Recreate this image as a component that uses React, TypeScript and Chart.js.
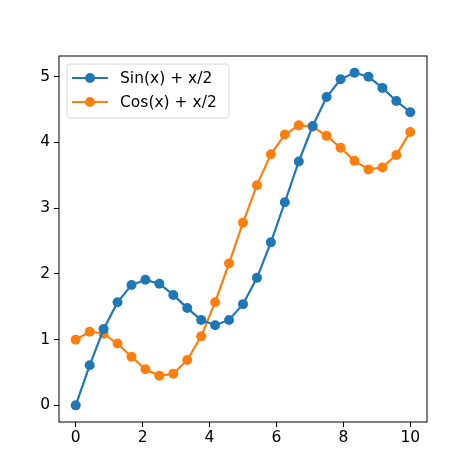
import { useEffect, useRef } from "react"
import { Chart, registerables } from "chart.js"

Chart.register(...registerables)

const xValues = [
  0, 0.417, 0.833, 1.25, 1.667, 2.083, 2.5, 2.917, 3.333, 3.75, 4.167, 4.583, 5.0,
  5.417, 5.833, 6.25, 6.667, 7.083, 7.5, 7.917, 8.333, 8.75, 9.167, 9.583, 10,
]
const sinValues = [
  0, 0.61, 1.16, 1.57, 1.83, 1.91, 1.85, 1.68, 1.48, 1.3, 1.22, 1.3, 1.54, 1.94,
  2.48, 3.09, 3.71, 4.25, 4.69, 4.96, 5.06, 5.0, 4.83, 4.63, 4.46,
]
const cosValues = [
  1.0, 1.12, 1.09, 0.94, 0.74, 0.55, 0.45, 0.48, 0.69, 1.05, 1.57, 2.16, 2.78,
  3.35, 3.82, 4.12, 4.26, 4.24, 4.1, 3.92, 3.72, 3.59, 3.62, 3.81, 4.16,
]
const seriesLabels = ["Sin(x) + x/2", "Cos(x) + x/2"]
const seriesColors = ["#1f77b4", "#ff7f0e"]
const xTicks = [0, 2, 4, 6, 8, 10]
const yTicks = [0, 1, 2, 3, 4, 5]

const FONT = "DejaVu Sans"
const FONT_SIZE = 15.5
const MARKER = 5

// draws the full axes box and the matplotlib-style legend inside the plot
const framePlugin = {
  id: "frame",
  afterDatasetsDraw(chart: Chart) {
    const { ctx, chartArea } = chart
    ctx.save()
    ctx.strokeStyle = "#000"
    ctx.lineWidth = 1
    ctx.strokeRect(chartArea.left, chartArea.top, chartArea.right - chartArea.left, chartArea.bottom - chartArea.top)

    // legend
    const bx = chartArea.left + 8
    const by = chartArea.top + 8
    const bw = 162
    const bh = 54
    ctx.beginPath()
    ctx.roundRect(bx, by, bw, bh, 3)
    ctx.fillStyle = "rgba(255,255,255,0.8)"
    ctx.fill()
    ctx.strokeStyle = "#d6d6d6"
    ctx.stroke()

    ctx.font = `${FONT_SIZE}px "${FONT}"`
    ctx.textBaseline = "middle"
    seriesLabels.forEach((label, i) => {
      const cy = by + 14 + i * 24
      ctx.strokeStyle = seriesColors[i]
      ctx.lineWidth = 2.2
      ctx.beginPath()
      ctx.moveTo(bx + 5, cy)
      ctx.lineTo(bx + 41, cy)
      ctx.stroke()
      ctx.beginPath()
      ctx.arc(bx + 23, cy, MARKER, 0, Math.PI * 2)
      ctx.fillStyle = seriesColors[i]
      ctx.fill()
      ctx.fillStyle = "#000"
      ctx.fillText(label, bx + 53, cy + 1)
    })
    ctx.restore()
  },
}

export default function App() {
  const chartRef = useRef<HTMLCanvasElement>(null)
  const chartInstance = useRef<Chart | null>(null)

  useEffect(() => {
    if (!chartRef.current) return
    if (chartInstance.current) chartInstance.current.destroy()

    const ctx = chartRef.current.getContext("2d")
    if (!ctx) return

    const makeData = (values: number[]) => values.map((y, i) => ({ x: xValues[i], y }))

    chartInstance.current = new Chart(ctx, {
      type: "line",
      data: {
        datasets: [sinValues, cosValues].map((values, i) => ({
          label: seriesLabels[i],
          data: makeData(values),
          borderColor: seriesColors[i],
          backgroundColor: seriesColors[i],
          borderWidth: 2.2,
          pointRadius: MARKER,
          pointBorderWidth: 0,
          pointHoverRadius: MARKER,
          tension: 0,
        })),
      },
      options: {
        animation: false,
        responsive: false,
        maintainAspectRatio: false,
        layout: { padding: { top: 56, right: 47, left: 0, bottom: 0 } },
        plugins: {
          legend: { display: false },
          tooltip: { enabled: false },
        },
        scales: {
          x: {
            type: "linear",
            min: -0.5,
            max: 10.5,
            afterBuildTicks: (axis: any) => {
              axis.ticks = xTicks.map((value) => ({ value }))
            },
            afterFit: (axis: any) => {
              axis.height = 52
            },
            grid: { drawOnChartArea: false, tickLength: 5, tickColor: "#000", tickWidth: 1 },
            border: { display: false },
            ticks: { color: "#000", font: { family: FONT, size: FONT_SIZE }, padding: 2, maxRotation: 0 },
          },
          y: {
            type: "linear",
            min: -0.253,
            max: 5.315,
            afterBuildTicks: (axis: any) => {
              axis.ticks = yTicks.map((value) => ({ value }))
            },
            afterFit: (axis: any) => {
              axis.width = 59
            },
            grid: { drawOnChartArea: false, tickLength: 5, tickColor: "#000", tickWidth: 1 },
            border: { display: false },
            ticks: { color: "#000", font: { family: FONT, size: FONT_SIZE }, padding: 4 },
          },
        },
      },
      plugins: [framePlugin],
    })

    return () => {
      if (chartInstance.current) chartInstance.current.destroy()
    }
  }, [])

  return (
    <div style={{ position: "fixed", left: 0, top: 0, width: 474, height: 474, background: "#fff" }}>
      <canvas ref={chartRef} width={474} height={474} style={{ width: 474, height: 474 }} />
    </div>
  )
}
